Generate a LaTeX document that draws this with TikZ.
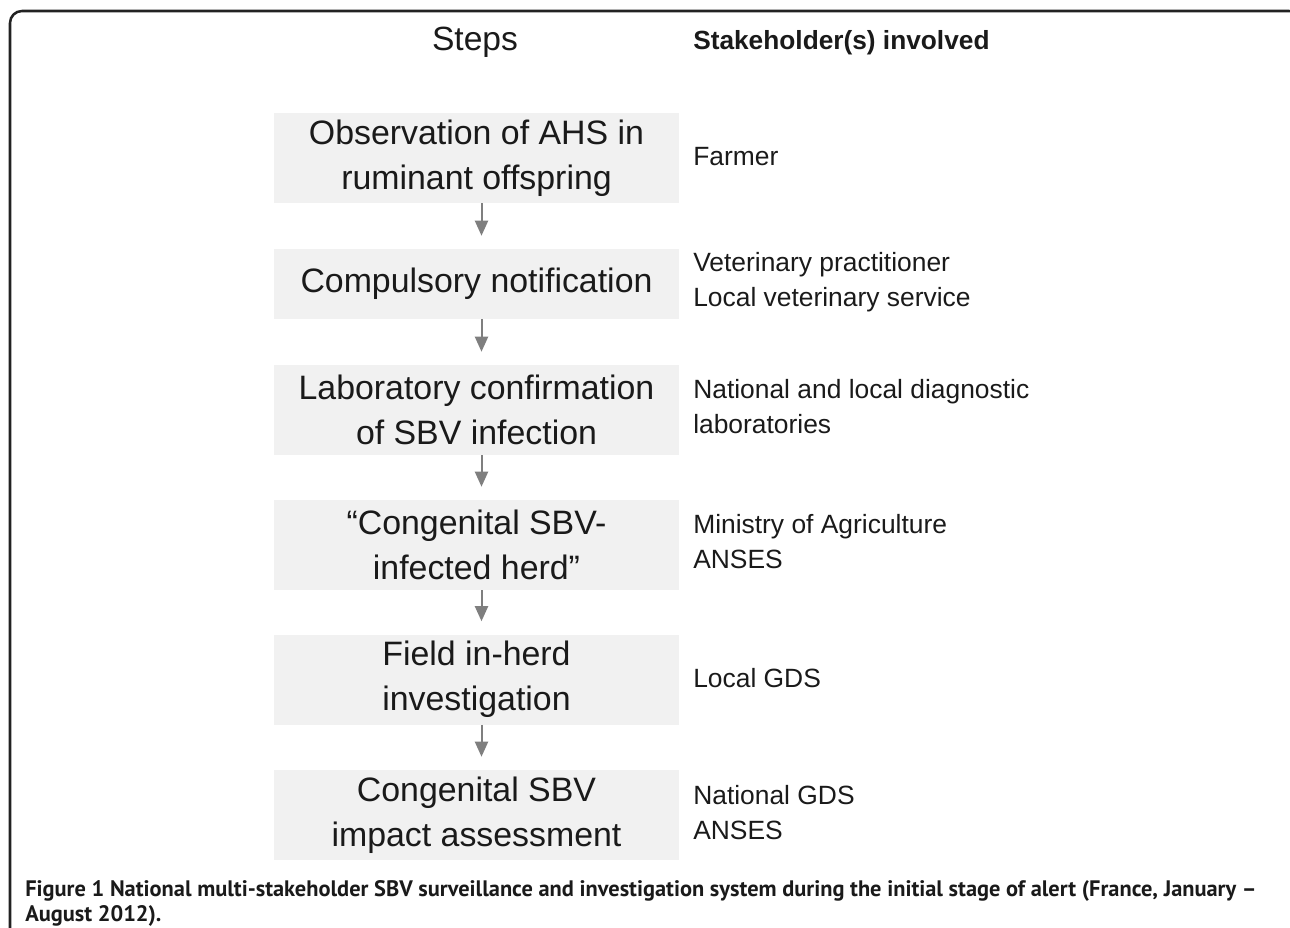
\documentclass[tikz,border=0pt]{standalone}
\usepackage{fontspec}
\setmainfont{Liberation Sans}
\newfontfamily\capfont{PT Sans}
\usetikzlibrary{arrows.meta}
\definecolor{boxfill}{HTML}{F1F1F1}
\definecolor{arrowgrey}{HTML}{7F7F7F}
\definecolor{framegrey}{HTML}{222222}
\definecolor{inktext}{HTML}{1A1A1A}
\begin{document}
\begin{tikzpicture}[x=0.75pt,y=-0.75pt,
  stepbox/.style={fill=boxfill, draw=none, minimum width=303.75pt, minimum height=67.5pt,
    inner sep=0pt, align=center, text=inktext,
    font=\fontsize{25.4pt}{33.75pt}\selectfont},
  whobox/.style={anchor=west, inner sep=0pt, align=left, text=inktext,
    font=\fontsize{19.8pt}{26.25pt}\selectfont},
  flow/.style={draw=arrowgrey, line width=1.5pt,
    -{Triangle[width=9.75pt,length=11.25pt]}, shorten >=9.75pt}]
  \useasboundingbox (0,0) rectangle (1290,928);
  % outer frame, open at the bottom and right
  \begin{scope}
    \clip (0,0) rectangle (1290,928);
    \draw[framegrey, line width=1.9pt, rounded corners=9pt]
      (10,960) -- (10,11) -- (1301,11) -- (1301,960);
  \end{scope}
  % column headings
  \node[inner sep=0pt, text=inktext, font=\fontsize{25.2pt}{30pt}\selectfont] (hsteps) at (475,42) {Steps};
  \node[inner sep=0pt, anchor=west, text=inktext, font=\fontsize{19.7pt}{24pt}\selectfont\bfseries] (hwho) at (693,43) {Stakeholder(s) involved};
  % steps
  \node[stepbox] (s1) at (476.5,158) {Observation of AHS in\\ruminant offspring};
  \node[stepbox, minimum height=52.5pt] (s2) at (476.5,284) {Compulsory notification};
  \node[stepbox] (s3) at (476.5,410) {Laboratory confirmation\\of SBV infection};
  \node[stepbox] (s4) at (476.5,545) {“Congenital SBV-\\infected herd”};
  \node[stepbox] (s5) at (476.5,679.5) {Field in-herd\\investigation};
  \node[stepbox] (s6) at (476.5,815) {Congenital SBV\\impact assessment};
  % stakeholders
  \node[whobox] (w1) at (693,157) {Farmer};
  \node[whobox] (w2) at (693,282) {Veterinary practitioner\\Local veterinary service};
  \node[whobox] (w3) at (693,407) {National and local diagnostic\\laboratories};
  \node[whobox] (w4) at (693,542) {Ministry of Agriculture\\ANSES};
  \node[whobox] (w5) at (693,678) {Local GDS};
  \node[whobox] (w6) at (693,813) {National GDS\\ANSES};
  % flow arrows
  \draw[flow] (s1.south -| 481.5,0) -- (s2.north -| 481.5,0);
  \draw[flow] (s2.south -| 481.5,0) -- (s3.north -| 481.5,0);
  \draw[flow] (s3.south -| 481.5,0) -- (s4.north -| 481.5,0);
  \draw[flow] (s4.south -| 481.5,0) -- (s5.north -| 481.5,0);
  \draw[flow] (s5.south -| 481.5,0) -- (s6.north -| 481.5,0);
  % caption (anchored on the baseline of its last line)
  \node[anchor=base west, inner sep=0pt, align=left, text=inktext,
    font=\capfont\bfseries\fontsize{16.8pt}{18.75pt}\selectfont] (cap) at (25,921)
    {Figure 1 National multi-stakeholder SBV surveillance and investigation system during the initial stage of alert (France, January –\\August 2012).};
\end{tikzpicture}
\end{document}
